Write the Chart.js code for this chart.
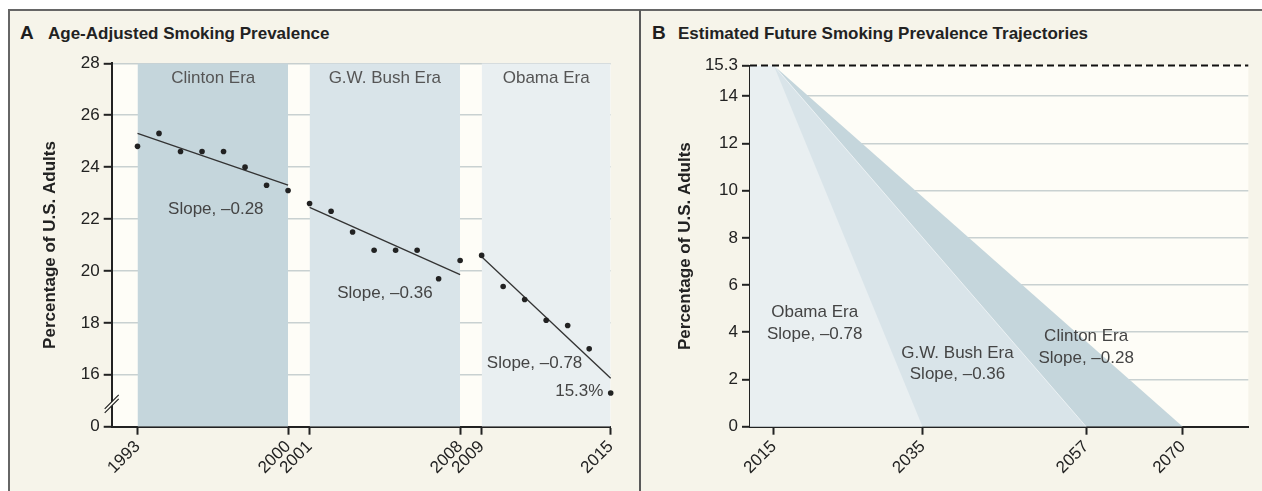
<!DOCTYPE html>
<html lang="en">

<head>
  <meta charset="UTF-8">
  <title>Smoking prevalence</title>
  <script src="https://cdn.jsdelivr.net/npm/chart.js@4.4.1/dist/chart.umd.min.js"></script>
  <style>
    body { margin: 0; background: #fff; font-family: "Liberation Sans", Arial, sans-serif; }
    .frame { position: absolute; left: 8px; top: 9px; width: 1260px; height: 490px;
             border-top: 2px solid #666; border-left: 2px solid #666; background: #f6f4ea; }
    .divider { position: absolute; left: 639px; top: 10px; width: 2px; height: 481px; background: #5a5a5a; }
    .letter { position: absolute; top: 23px; font-size: 19px; line-height: 20px; font-weight: bold; color: #1e1e1e; }
    .title { position: absolute; top: 24px; font-size: 17px; line-height: 20px; font-weight: bold; color: #222; white-space: nowrap; }
    canvas { position: absolute; top: 0; }
  </style>
</head>

<body>
  <div class="frame"></div>
  <div class="divider"></div>

  <div class="letter" style="left:20px">A</div>
  <div class="title" style="left:48px">Age-Adjusted Smoking Prevalence</div>
  <div class="letter" style="left:652px">B</div>
  <div class="title" style="left:678px">Estimated Future Smoking Prevalence Trajectories</div>

  <canvas id="chartA" width="640" height="491" style="left:0"></canvas>
  <canvas id="chartB" width="622" height="491" style="left:640px"></canvas>

  <script>
    // Panel A data
    const years = [1993, 1994, 1995, 1996, 1997, 1998, 1999, 2000, 2001, 2002, 2003, 2004,
                   2005, 2006, 2007, 2008, 2009, 2010, 2011, 2012, 2013, 2014, 2015];
    const prevalence = [24.8, 25.3, 24.6, 24.6, 24.6, 24.0, 23.3, 23.1, 22.6, 22.3, 21.5, 20.8,
                        20.8, 20.8, 19.7, 20.4, 20.6, 19.4, 18.9, 18.1, 17.9, 17.0, 15.3];
    const eras = ['Clinton Era', 'G.W. Bush Era', 'Obama Era'];
    const eraStart = [1993, 2001, 2009];
    const eraEnd = [2000, 2008, 2015];
    const trendStart = [25.30, 22.45, 20.55];
    const trendEnd = [23.31, 19.86, 15.87];
    const slopes = ['\u20130.28', '\u20130.36', '\u20130.78'];
    const xTicksA = [1993, 2000, 2001, 2008, 2009, 2015];
    const yTicksA = [14, 16, 18, 20, 22, 24, 26, 28]; // 14 sits on the axis break, shown as 0

    // Panel B data
    const startLevel = 15.3;
    const startYear = 2015;
    const zeroYear = [2070, 2057, 2035]; // Clinton, Bush, Obama slope reaches 0
    const xTicksB = [2015, 2035, 2057, 2070];
    const yTicksB = [0, 2, 4, 6, 8, 10, 12, 14, 15.3];

    const eraColors = ['#c5d6dc', '#d9e4e9', '#e9eff1'];
    const gridColor = 'rgba(95, 120, 135, 0.33)';
    const ink = '#222';
    const FONT = '"Liberation Sans", Arial, sans-serif';

    const xMinA = 1991.8, xMaxA = 2015, yMinA = 14, yMaxA = 28;
    const xMinB = 2011.8, xMaxB = 2078.8;

    // off-white plot area
    const plotBg = {
      id: 'plotBg',
      beforeDraw(chart) {
        const { ctx, chartArea: a } = chart;
        ctx.save();
        ctx.fillStyle = '#fefdf7';
        ctx.fillRect(a.left, a.top, a.right - a.left, a.bottom - a.top);
        ctx.restore();
      }
    };

    function notesPlugin(notes) {
      return {
        id: 'notes',
        afterDraw(chart) {
          const { ctx, scales: { x, y } } = chart;
          ctx.save();
          ctx.font = '17px ' + FONT;
          ctx.textBaseline = 'middle';
          notes.forEach(n => {
            ctx.fillStyle = n.color || '#444';
            ctx.textAlign = n.align || 'center';
            ctx.fillText(n.text, x.getPixelForValue(n.x), y.getPixelForValue(n.y));
          });
          ctx.restore();
        }
      };
    }

    // the // break on the y axis of panel A
    const axisBreak = {
      id: 'axisBreak',
      afterDraw(chart) {
        const { ctx, chartArea: a, scales: { y } } = chart;
        const cx = a.left, cy = y.getPixelForValue(14.8);
        ctx.save();
        ctx.fillStyle = '#fbfaf2';
        ctx.beginPath();
        ctx.moveTo(cx - 7, cy + 7); ctx.lineTo(cx + 7, cy - 7);
        ctx.lineTo(cx + 7, cy - 11); ctx.lineTo(cx - 7, cy + 3);
        ctx.closePath(); ctx.fill();
        ctx.strokeStyle = ink; ctx.lineWidth = 1.2;
        ctx.beginPath();
        ctx.moveTo(cx - 7, cy + 7); ctx.lineTo(cx + 7, cy - 7);
        ctx.moveTo(cx - 7, cy + 3); ctx.lineTo(cx + 7, cy - 11);
        ctx.stroke();
        ctx.restore();
      }
    };

    function fixTicks(list) {
      return scale => { scale.ticks = list.map(v => ({ value: v })); };
    }

    const notesA = [
      ...eras.map((e, i) => ({ text: e, x: [1996.52, 2004.5, 2012][i], y: 27.42, color: '#555' })),
      ...slopes.map((s, i) => ({ text: 'Slope, ' + s, x: [1996.64, 2004.5, 2011.46][i], y: [22.39, 19.15, 16.44][i] })),
      { text: startLevel + '%', x: 2014.66, y: 15.35, align: 'right' }
    ];

    const ctxA = document.getElementById('chartA').getContext('2d');
    const chartA = new Chart(ctxA, {
      type: 'line',
      data: {
        datasets: [
          {
            label: 'Prevalence',
            data: years.map((yr, i) => ({ x: yr, y: prevalence[i] })),
            showLine: false,
            pointRadius: 2.8,
            pointBackgroundColor: ink,
            pointBorderWidth: 0,
            order: 0,
            clip: false
          },
          ...eras.map((e, i) => ({
            label: e + ' trend',
            data: [{ x: eraStart[i], y: trendStart[i] }, { x: eraEnd[i], y: trendEnd[i] }],
            borderColor: '#333',
            borderWidth: 1.3,
            pointRadius: 0,
            order: 1,
            clip: false
          })),
          ...eras.map((e, i) => ({
            label: e,
            data: [{ x: eraStart[i], y: yMaxA }, { x: eraEnd[i], y: yMaxA }],
            fill: 'start',
            backgroundColor: eraColors[i],
            borderWidth: 0,
            pointRadius: 0,
            order: 2
          }))
        ]
      },
      options: {
        responsive: false,
        animation: false,
        events: [],
        layout: { padding: { top: 63.3, right: 29.3, left: 0, bottom: 0 } },
        plugins: { legend: { display: false }, tooltip: { enabled: false } },
        scales: {
          x: {
            type: 'linear',
            min: xMinA,
            max: xMaxA,
            z: 1,
            afterBuildTicks: fixTicks(xTicksA),
            afterFit: s => { s.height = 64.3; },
            grid: { drawOnChartArea: false, tickLength: 8, tickWidth: 2, tickColor: ink },
            border: { color: ink, width: 2 },
            ticks: {
              autoSkip: false, minRotation: 45, maxRotation: 45, padding: 2,
              color: ink, font: { family: FONT, size: 17 },
              callback: v => String(v)
            }
          },
          y: {
            min: yMinA,
            max: yMaxA,
            z: 1,
            afterBuildTicks: fixTicks(yTicksA),
            afterFit: s => { s.width = 111.7; },
            grid: {
              color: c => c.tick && c.tick.value === yMinA ? 'transparent' : gridColor,
              lineWidth: 1.6, tickLength: 8, tickWidth: 2, tickColor: ink
            },
            border: { color: ink, width: 2 },
            ticks: {
              padding: 4, color: ink, font: { family: FONT, size: 17 },
              callback: v => v === yMinA ? '0' : String(v)
            },
            title: {
              display: true,
              text: 'Percentage of U.S. Adults',
              color: ink,
              font: { family: FONT, size: 17, weight: 'bold' },
              padding: { top: 39.8, bottom: 0 }
            }
          }
        }
      },
      plugins: [plotBg, axisBreak, notesPlugin(notesA)]
    });

    // Panel B: fills in order Clinton, Bush, Obama (Obama on top)
    const notesB = [
      { text: eras[2], x: 2020.5, y: 4.83 }, { text: 'Slope, ' + slopes[2], x: 2020.5, y: 3.92 },
      { text: eras[1], x: 2039.7, y: 3.11 }, { text: 'Slope, ' + slopes[1], x: 2039.7, y: 2.22 },
      { text: eras[0], x: 2057.0, y: 3.81 }, { text: 'Slope, ' + slopes[0], x: 2057.0, y: 2.90 }
    ];

    const ctxB = document.getElementById('chartB').getContext('2d');
    const chartB = new Chart(ctxB, {
      type: 'line',
      data: {
        datasets: [
          {
            label: 'Start level',
            data: [{ x: xMinB, y: startLevel }, { x: xMaxB, y: startLevel }],
            borderColor: '#111',
            borderWidth: 2,
            borderDash: [7, 4],
            pointRadius: 0,
            order: 0,
            clip: false
          },
          ...eras.map((e, i) => ({
            label: e,
            data: [{ x: xMinB, y: startLevel }, { x: startYear, y: startLevel }, { x: zeroYear[i], y: 0 }],
            fill: 'origin',
            backgroundColor: eraColors[i],
            borderColor: i === 1 ? 'rgba(255,255,255,0.6)' : 'transparent',
            borderWidth: i === 1 ? 1 : 0,
            pointRadius: 0,
            order: 3 - i
          }))
        ]
      },
      options: {
        responsive: false,
        animation: false,
        events: [],
        layout: { padding: { top: 65.5, right: 13.7, left: 0, bottom: 0 } },
        plugins: { legend: { display: false }, tooltip: { enabled: false } },
        scales: {
          x: {
            type: 'linear',
            min: xMinB,
            max: xMaxB,
            z: 1,
            afterBuildTicks: fixTicks(xTicksB),
            afterFit: s => { s.height = 64.3; },
            grid: { drawOnChartArea: false, tickLength: 8, tickWidth: 2, tickColor: ink },
            border: { color: ink, width: 2 },
            ticks: {
              autoSkip: false, minRotation: 45, maxRotation: 45, padding: 2,
              color: ink, font: { family: FONT, size: 17 },
              callback: v => String(v)
            }
          },
          y: {
            min: 0,
            max: startLevel,
            z: 1,
            afterBuildTicks: fixTicks(yTicksB),
            afterFit: s => { s.width = 110; },
            grid: {
              color: c => c.tick && (c.tick.value === 0 || c.tick.value === startLevel) ? 'transparent' : gridColor,
              lineWidth: 1.6, tickLength: 8, tickWidth: 2, tickColor: ink
            },
            border: { color: ink, width: 2 },
            ticks: {
              padding: 4, color: ink, font: { family: FONT, size: 17 },
              callback: v => String(v)
            },
            title: {
              display: true,
              text: 'Percentage of U.S. Adults',
              color: ink,
              font: { family: FONT, size: 17, weight: 'bold' },
              padding: { top: 35.3, bottom: 0 }
            }
          }
        }
      },
      plugins: [plotBg, notesPlugin(notesB)]
    });
  </script>

</body>
</html>
